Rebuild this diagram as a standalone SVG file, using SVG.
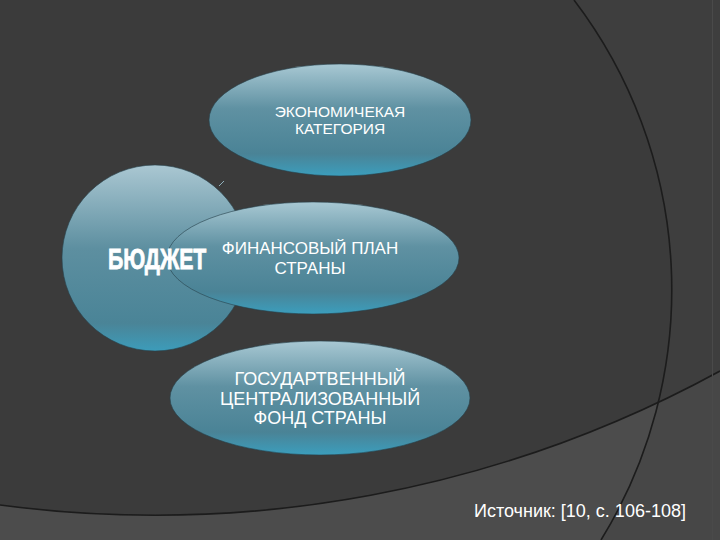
<svg xmlns="http://www.w3.org/2000/svg" width="720" height="540" viewBox="0 0 720 540">
  <defs>
    <linearGradient id="gEll" x1="0" y1="0" x2="0" y2="1">
      <stop offset="0" stop-color="#a8c8d3"/>
      <stop offset="0.4" stop-color="#5f91a2"/>
      <stop offset="0.8" stop-color="#4a8396"/>
      <stop offset="1" stop-color="#3b9ebd"/>
    </linearGradient>
    <linearGradient id="gCirc" x1="0" y1="0" x2="0" y2="1">
      <stop offset="0" stop-color="#aac7d2"/>
      <stop offset="0.45" stop-color="#5d8fa0"/>
      <stop offset="0.85" stop-color="#4a8497"/>
      <stop offset="1" stop-color="#3c9cba"/>
    </linearGradient>
    <clipPath id="clipLower">
      <path d="M0,540 L0,505 A1180,1180 0 0 0 720,371 L720,540 Z"/>
    </clipPath>
    <clipPath id="clipRight">
      <path d="M574,0 A478,478 0 0 1 601,540 L720,540 L720,0 Z"/>
    </clipPath>
  </defs>
  <style>
    .node { fill: url(#gEll); stroke: #27414b; stroke-width: 1; stroke-opacity: 0.6; }
    .lbl { font-family: "Liberation Sans", Arial, sans-serif; fill: #ffffff; text-anchor: middle; }
    .arc { fill: none; stroke: #1c1c1c; stroke-width: 1.6; }
  </style>

  <!-- background -->
  <rect x="0" y="0" width="720" height="540" fill="#3b3b3b"/>
  <rect x="0" y="0" width="720" height="540" fill="#3e3e3e" clip-path="url(#clipRight)"/>
  <g clip-path="url(#clipLower)">
    <rect x="0" y="0" width="720" height="540" fill="#4c4c4c"/>
    <rect x="0" y="0" width="720" height="540" fill="#474747" clip-path="url(#clipRight)"/>
  </g>
  <path class="arc" d="M0,505 A1180,1180 0 0 0 720,371"/>
  <path class="arc" d="M574,0 A478,478 0 0 1 601,540"/>
  <line x1="712.5" y1="0" x2="712.5" y2="540" stroke="#4a4a4a" stroke-width="1"/>

  <g id="connectors">
    <line x1="219" y1="186" x2="224" y2="181" stroke="#8fb0bb" stroke-width="1"/>
  </g>

  <g id="budget">
    <circle cx="155" cy="258" r="93" fill="url(#gCirc)" stroke="#27414b" stroke-width="1" stroke-opacity="0.6"/>
  </g>

  <g id="econ">
    <ellipse class="node" cx="340" cy="120" rx="131" ry="56"/>
    <text class="lbl" x="340" y="116.5" font-size="15.5">ЭКОНОМИЧЕКАЯ</text>
    <text class="lbl" x="340" y="134" font-size="15.5">КАТЕГОРИЯ</text>
  </g>

  <g id="plan">
    <ellipse class="node" cx="313" cy="258" rx="146" ry="56" stroke-opacity="0.35"/>
    <text class="lbl" x="310" y="254" font-size="17">ФИНАНСОВЫЙ ПЛАН</text>
    <text class="lbl" x="310" y="273.5" font-size="17">СТРАНЫ</text>
  </g>

  <g id="budget-label">
    <text transform="translate(108,269) scale(0.71,1)" x="0" y="0" font-family="Liberation Sans, Arial, sans-serif" font-weight="bold" font-size="30" fill="#ffffff" stroke="#ffffff" stroke-width="0.8">БЮДЖЕТ</text>
  </g>

  <g id="fund">
    <ellipse class="node" cx="320" cy="398" rx="150" ry="57"/>
    <text class="lbl" x="320" y="385" font-size="18">ГОСУДАРТВЕННЫЙ</text>
    <text class="lbl" x="320" y="405" font-size="18">ЦЕНТРАЛИЗОВАННЫЙ</text>
    <text class="lbl" x="320" y="423.5" font-size="18">ФОНД СТРАНЫ</text>
  </g>

  <g id="source">
    <text x="474" y="517" font-family="Liberation Sans, Arial, sans-serif" font-size="18" fill="#ffffff">Источник: [10, с. 106-108]</text>
  </g>
</svg>
